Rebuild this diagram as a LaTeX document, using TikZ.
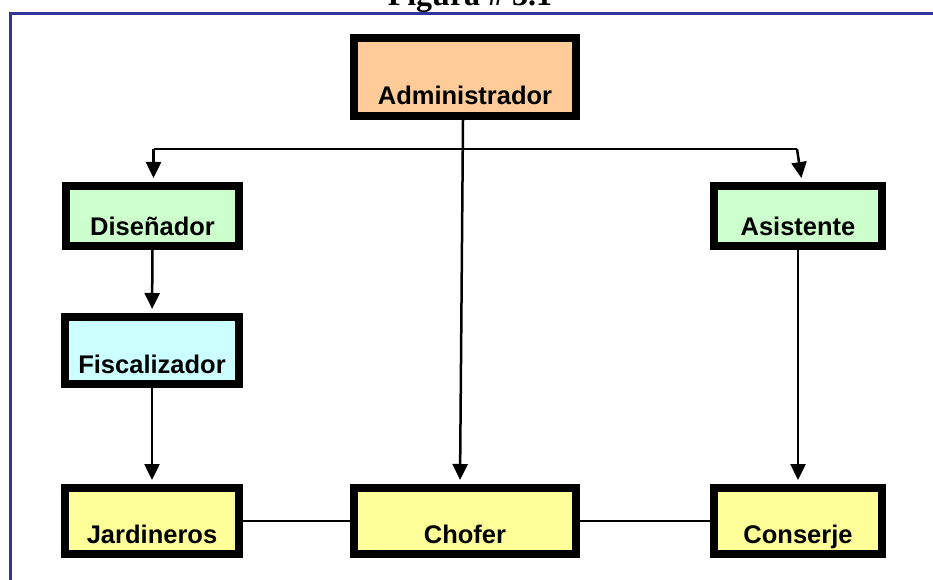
\documentclass[tikz,border=0pt]{standalone}
\usepackage{fontspec}
\setmainfont{Liberation Sans}
\newfontfamily\titlefont{Liberation Serif}
\usetikzlibrary{arrows.meta}
\definecolor{orgFrame}{RGB}{51,51,153}
\definecolor{orgOrangeFill}{RGB}{255,204,153}
\definecolor{orgGreenFill}{RGB}{204,255,204}
\definecolor{orgCyanFill}{RGB}{204,255,255}
\definecolor{orgYellowFill}{RGB}{255,255,153}

\begin{document}
\begin{tikzpicture}[x=1pt, y=-1pt,
    orgbox/.style={rectangle, draw=black, line width=8pt, inner sep=0pt,
      text depth=11pt, align=center,
      font=\fontsize{25.5}{30}\selectfont\bfseries},
    adminbox/.style={orgbox, fill=orgOrangeFill},
    staffbox/.style={orgbox, fill=orgGreenFill},
    controlbox/.style={orgbox, fill=orgCyanFill},
    workbox/.style={orgbox, fill=orgYellowFill},
    arr/.style={-{Triangle[length=16pt, width=15pt]}, line width=2.5pt,
      shorten >=4pt},
    link/.style={line width=2.5pt},
  ]
  \useasboundingbox (0,0) rectangle (933,580);

  % ---- title and frame ----
  \node[font=\titlefont\fontsize{32}{36}\selectfont\bfseries, anchor=base]
    (title) at (470,6) {Figura \# 3.1};
  \draw[draw=orgFrame, line width=3pt] (933,13.5) -- (10.5,13.5) -- (10.5,580);

  % ---- boxes ----
  \node[adminbox, minimum width=222pt, text height=67pt] (admin) at (465,77)
    {Administrador};
  \node[staffbox, minimum width=173pt, text height=49pt] (dis) at (152.5,216)
    {Diseñador};
  \node[staffbox, minimum width=168pt, text height=49pt] (asis) at (798,216)
    {Asistente};
  \node[controlbox, minimum width=174pt, text height=56pt] (fisc) at (152,350.5)
    {Fiscalizador};
  \node[workbox, minimum width=174pt, text height=55pt] (jard) at (152,521)
    {Jardineros};
  \node[workbox, minimum width=222pt, text height=55pt] (chofer) at (465,521)
    {Chofer};
  \node[workbox, minimum width=168pt, text height=55pt] (cons) at (798,521)
    {Conserje};

  % ---- connectors ----
  \coordinate (bl) at (153.5,149);
  \coordinate (br) at (797,149);
  \draw[link] (bl) -- (br);
  \draw[arr] (bl) -- (dis.north -| bl);
  \draw[arr] (br) -- ([xshift=4pt]asis.north);
  \draw[arr] ([xshift=-2pt]admin.south) -- ([xshift=-5pt]chofer.north);
  \draw[arr] (dis) -- (fisc);
  \draw[arr] (fisc) -- (jard);
  \draw[arr] (asis) -- (cons);
  \draw[link] (jard) -- (chofer);
  \draw[link] (chofer) -- (cons);
\end{tikzpicture}
\end{document}
